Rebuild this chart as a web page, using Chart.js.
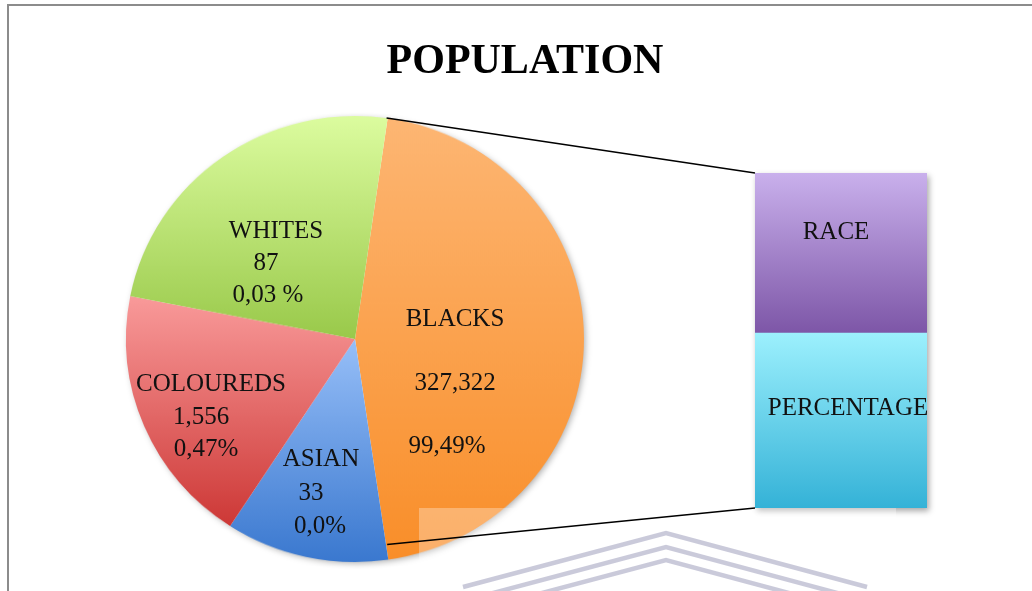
<!DOCTYPE html>
<html>
<head>
<meta charset="utf-8">
<script src="https://cdn.jsdelivr.net/npm/chart.js@4"></script>
<style>
  html, body { margin: 0; padding: 0; background: #fff; overflow: hidden; }
  #wrap { position: relative; width: 1032px; height: 591px; }
  #frame { position: absolute; left: 7px; top: 4px; width: 1100px; height: 700px; border: 2px solid #8c8c8c; box-sizing: border-box; }
  .layer { position: absolute; left: 0; top: 0; width: 1032px; height: 591px; }
  /* the reference pie is a little wider than tall */
  #pieLayer { transform: scaleY(0.974); transform-origin: 355px 339px; }
</style>
</head>
<body>
<div id="wrap">
  <div id="frame"></div>
  <div class="layer" id="pieLayer"><canvas id="pie"></canvas></div>
  <div class="layer"><canvas id="bar"></canvas></div>
</div>
<script>
// pie slices, clockwise from the top
const pieLabels = ['BLACKS', 'ASIAN', 'COLOUREDS', 'WHITES'];
const pieCounts = ['327,322', '33', '1,556', '87'];
const piePercents = ['99,49%', '0,0%', '0,47%', '0,03 %'];
// slice sizes as drawn in the picture (% of the circle)
const pieShares = [45.4, 11.5, 18.9, 24.2];

// second plot (stacked bar), bottom to top
const barLabels = ['PERCENTAGE', 'RACE'];
const barShares = [52.2, 47.8];

const ROTATION = 8.2;
const SQUASH = 0.974;
const FONT = '"Liberation Serif", "Times New Roman", serif';

const pieColors = [
  ['#fdb673', '#f98e29'],
  ['#97bff8', '#3a78cf'],
  ['#f99a9a', '#cd3836'],
  ['#dcfc9f', '#99c94a'],
];
const barColors = [
  ['#9cf0fd', '#34b2d7'],
  ['#c9b0ec', '#7d56a7'],
];

// where each text line sits (centre x, middle y)
const pieTextPos = [
  [[455, 319], [455, 383], [447, 446]],
  [[321, 459], [311, 493], [320, 526]],
  [[211, 384], [201, 417], [206, 449]],
  [[276, 231], [266, 263], [268, 295]],
];
const barTextPos = [[848, 408], [836, 232]];

// centre, radius and start/end angle of slice i for a chart area
function sliceGeom(a, i) {
  const cx = (a.left + a.right) / 2, cy = (a.top + a.bottom) / 2;
  const r = Math.min(a.right - a.left, a.bottom - a.top) / 2;
  const total = pieShares.reduce((s, v) => s + v, 0);
  let start = (ROTATION - 90) * Math.PI / 180;
  for (let k = 0; k < i; k++) start += pieShares[k] / total * 2 * Math.PI;
  const end = start + pieShares[i] / total * 2 * Math.PI;
  return { cx, cy, r, start, end };
}

function sliceGradient(c) {
  const i = c.dataIndex;
  const a = c.chart.chartArea;
  if (i === undefined) return '#ccc';
  if (!a) return pieColors[i][1];
  const { cy, r, start, end } = sliceGeom(a, i);
  const ys = [cy, cy + r * Math.sin(start), cy + r * Math.sin(end)];
  for (const t of [-Math.PI / 2, Math.PI / 2, 1.5 * Math.PI, 2.5 * Math.PI]) {
    if (t > start && t < end) ys.push(cy + r * Math.sin(t));
  }
  const g = c.chart.ctx.createLinearGradient(0, Math.min(...ys), 0, Math.max(...ys));
  g.addColorStop(0, pieColors[i][0]);
  g.addColorStop(1, pieColors[i][1]);
  return g;
}

function barGradient(c) {
  const i = c.datasetIndex;
  const y = c.chart.scales.y;
  if (!y || !c.chart.chartArea) return barColors[i][1];
  let lo = 0;
  for (let k = 0; k < i; k++) lo += barShares[k];
  const g = c.chart.ctx.createLinearGradient(0, y.getPixelForValue(lo + barShares[i]), 0, y.getPixelForValue(lo));
  g.addColorStop(0, barColors[i][0]);
  g.addColorStop(1, barColors[i][1]);
  return g;
}

const pieShadow = {
  id: 'pieShadow',
  beforeDatasetsDraw(chart) {
    const arc = chart.getDatasetMeta(0).data[0];
    const ctx = chart.ctx;
    ctx.save();
    ctx.shadowColor = 'rgba(0,0,0,0.35)';
    ctx.shadowBlur = 7;
    ctx.shadowOffsetX = 2;
    ctx.shadowOffsetY = 2;
    ctx.beginPath();
    ctx.arc(arc.x, arc.y, arc.outerRadius - 1, 0, 2 * Math.PI);
    ctx.fillStyle = '#fff';
    ctx.fill();
    ctx.restore();
  },
};

const pieChart = new Chart(document.getElementById('pie'), {
  type: 'pie',
  data: {
    labels: pieLabels,
    datasets: [{
      data: pieShares,
      backgroundColor: sliceGradient,
      borderWidth: 0,
    }],
  },
  options: {
    responsive: true,
    maintainAspectRatio: false,
    animation: false,
    rotation: ROTATION,
    layout: { padding: { left: 126, right: 448, top: 110, bottom: 23 } },
    plugins: { legend: { display: false }, tooltip: { enabled: false } },
  },
  plugins: [pieShadow],
});

// point on the pie rim, in page coordinates (after the CSS squash)
function rimPoint(g, ang) {
  const y = g.cy + g.r * Math.sin(ang);
  return [g.cx + g.r * Math.cos(ang), g.cy + (y - g.cy) * SQUASH];
}

const barDecor = {
  id: 'barDecor',
  beforeDatasetsDraw(chart) {
    const bottom = chart.getDatasetMeta(0).data[0];
    const top = chart.getDatasetMeta(1).data[0];
    const ctx = chart.ctx;
    ctx.save();
    ctx.shadowColor = 'rgba(0,0,0,0.35)';
    ctx.shadowBlur = 6;
    ctx.shadowOffsetX = 2;
    ctx.shadowOffsetY = 3;
    ctx.fillStyle = '#fff';
    ctx.fillRect(top.x - top.width / 2, top.y, top.width, bottom.base - top.y);
    ctx.restore();
  },
  afterDraw(chart) {
    const ctx = chart.ctx;
    ctx.save();
    // title
    ctx.font = 'bold 42px ' + FONT;
    ctx.fillStyle = '#000';
    ctx.textAlign = 'center';
    ctx.textBaseline = 'alphabetic';
    ctx.fillText('POPULATION', 525, 73);

    // slice and bar labels
    ctx.font = '25px ' + FONT;
    ctx.fillStyle = '#111';
    ctx.textBaseline = 'middle';
    pieLabels.forEach((l, i) => {
      [l, pieCounts[i], piePercents[i]].forEach((t, j) => ctx.fillText(t, pieTextPos[i][j][0], pieTextPos[i][j][1]));
    });
    barLabels.forEach((l, i) => ctx.fillText(l, barTextPos[i][0], barTextPos[i][1]));

    // faded watermark at the bottom of the page
    ctx.fillStyle = 'rgba(255,255,255,0.3)';
    ctx.fillRect(419, 508, 477, 83);
    ctx.strokeStyle = 'rgba(180,180,202,0.7)';
    ctx.lineWidth = 4.5;
    [0, 14, 27].forEach(d => {
      ctx.beginPath();
      ctx.moveTo(463, 587 + d);
      ctx.lineTo(666, 533 + d);
      ctx.lineTo(867, 587 + d);
      ctx.stroke();
    });

    // connectors from the BLACKS slice to the bar
    const g = sliceGeom(pieChart.chartArea, 0);
    const barTop = chart.getDatasetMeta(1).data[0];
    const barBot = chart.getDatasetMeta(0).data[0];
    const bx = barTop.x - barTop.width / 2;
    const p1 = rimPoint(g, g.start);
    const p2 = rimPoint(g, g.end);
    ctx.strokeStyle = '#000';
    ctx.lineWidth = 1.6;
    ctx.beginPath();
    ctx.moveTo(p1[0], p1[1]);
    ctx.lineTo(bx, barTop.y);
    ctx.stroke();
    ctx.beginPath();
    ctx.moveTo(p2[0], p2[1]);
    ctx.lineTo(bx, barBot.base);
    ctx.stroke();
    ctx.restore();
  },
};

new Chart(document.getElementById('bar'), {
  type: 'bar',
  data: {
    labels: [''],
    datasets: barLabels.map((l, i) => ({
      label: l,
      data: [barShares[i]],
      backgroundColor: barGradient,
      borderWidth: 0,
      categoryPercentage: 1,
      barPercentage: 1,
    })),
  },
  options: {
    responsive: true,
    maintainAspectRatio: false,
    animation: false,
    layout: { padding: { left: 755, right: 105, top: 173, bottom: 83 } },
    scales: {
      x: { display: false, stacked: true },
      y: { display: false, stacked: true, min: 0, max: barShares.reduce((s, v) => s + v, 0) },
    },
    plugins: { legend: { display: false }, tooltip: { enabled: false } },
  },
  plugins: [barDecor],
});
</script>
</body>
</html>
